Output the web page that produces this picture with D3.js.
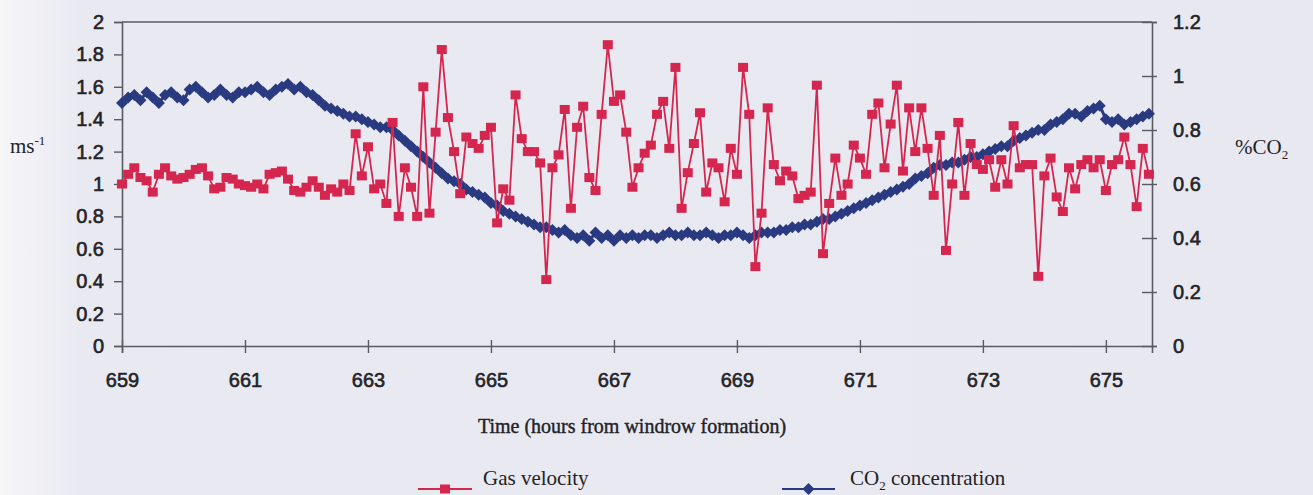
<!DOCTYPE html>
<html>
<head>
<meta charset="utf-8">
<script src="https://cdn.jsdelivr.net/npm/d3@7"></script>
<style>
  html, body { margin: 0; padding: 0; background: #e9e9f1; }
  svg { display: block; }
</style>
</head>
<body>
<div id="chart"></div>
<script>
// Readings are every 0.1 h starting at 659 h
const startHour = 659
const stepHours = 0.1

// Gas velocity (ms-1), left axis
const gasVelocity = [
  1.00, 1.06, 1.10, 1.04, 1.02, 0.95, 1.06, 1.10, 1.05, 1.03,
  1.04, 1.06, 1.09, 1.10, 1.05, 0.97, 0.98, 1.04, 1.03, 1.00,
  0.99, 0.98, 1.00, 0.97, 1.06, 1.07, 1.08, 1.03, 0.96, 0.95,
  0.98, 1.02, 0.98, 0.93, 0.97, 0.95, 1.00, 0.96, 1.31, 1.05,
  1.23, 0.97, 1.00, 0.88, 1.38, 0.80, 1.10, 0.98, 0.80, 1.60,
  0.82, 1.32, 1.83, 1.41, 1.20, 0.94, 1.29, 1.25, 1.22, 1.30,
  1.35, 0.76, 0.97, 0.90, 1.55, 1.28, 1.20, 1.20, 1.13, 0.41,
  1.10, 1.18, 1.46, 0.85, 1.35, 1.48, 1.04, 0.96, 1.43, 1.86,
  1.51, 1.55, 1.32, 0.98, 1.10, 1.19, 1.24, 1.43, 1.51, 1.22,
  1.72, 0.85, 1.07, 1.25, 1.44, 0.95, 1.13, 1.10, 0.89, 1.22,
  1.06, 1.72, 1.43, 0.49, 0.82, 1.47, 1.12, 1.02, 1.08, 1.05,
  0.91, 0.93, 0.95, 1.61, 0.57, 0.88, 1.16, 0.93, 1.00, 1.24,
  1.16, 1.06, 1.43, 1.50, 1.10, 1.37, 1.61, 1.08, 1.47, 1.20,
  1.47, 1.22, 0.93, 1.30, 0.59, 1.00, 1.38, 0.93, 1.25, 1.12,
  1.09, 1.15, 0.98, 1.15, 1.00, 1.36, 1.10, 1.12, 1.12, 0.43,
  1.05, 1.16, 0.92, 0.83, 1.10, 0.97, 1.12, 1.15, 1.10, 1.15,
  0.96, 1.12, 1.15, 1.29, 1.12, 0.86, 1.22, 1.06
]

// CO2 concentration (%), right axis
const co2 = [
  0.90, 0.92, 0.93, 0.91, 0.94, 0.92, 0.90, 0.93, 0.94, 0.92,
  0.91, 0.95, 0.96, 0.94, 0.92, 0.93, 0.95, 0.93, 0.92, 0.94,
  0.94, 0.95, 0.96, 0.94, 0.93, 0.95, 0.96, 0.97, 0.95, 0.96,
  0.94, 0.93, 0.91, 0.89, 0.88, 0.87, 0.86, 0.85, 0.85, 0.84,
  0.83, 0.82, 0.81, 0.81, 0.80, 0.78, 0.76, 0.74, 0.72, 0.70,
  0.68, 0.66, 0.64, 0.62, 0.61, 0.60, 0.58, 0.57, 0.56, 0.55,
  0.53, 0.52, 0.50, 0.49, 0.48, 0.47, 0.46, 0.45, 0.44, 0.44,
  0.43, 0.42, 0.43, 0.41, 0.40, 0.41, 0.39, 0.42, 0.40, 0.41,
  0.39, 0.41, 0.40, 0.41, 0.40, 0.41, 0.41, 0.40, 0.41, 0.42,
  0.41, 0.41, 0.42, 0.41, 0.41, 0.42, 0.41, 0.40, 0.41, 0.41,
  0.42, 0.41, 0.40, 0.41, 0.42, 0.42, 0.42, 0.43, 0.43, 0.44,
  0.44, 0.45, 0.45, 0.46, 0.47, 0.47, 0.48, 0.49, 0.50, 0.51,
  0.52, 0.53, 0.54, 0.55, 0.56, 0.57, 0.58, 0.59, 0.60, 0.62,
  0.63, 0.64, 0.66, 0.67, 0.67, 0.68, 0.68, 0.69, 0.70, 0.70,
  0.71, 0.72, 0.73, 0.74, 0.74, 0.76, 0.77, 0.78, 0.79, 0.80,
  0.80, 0.82, 0.83, 0.84, 0.86, 0.86, 0.85, 0.87, 0.88, 0.89,
  0.84, 0.83, 0.84, 0.82, 0.83, 0.84, 0.85, 0.86
]

const xTicks = [659, 661, 663, 665, 667, 669, 671, 673, 675]
const leftTicks = [0, 0.2, 0.4, 0.6, 0.8, 1, 1.2, 1.4, 1.6, 1.8, 2]
const rightTicks = [0, 0.2, 0.4, 0.6, 0.8, 1, 1.2]

const width = 1313, height = 495
const plot = {left: 122, right: 1152, top: 22, bottom: 346}

const red = "#d5264f"
const blue = "#2a3a80"
const axisColor = "#5a5a62"
const textColor = "#232326"

const svg = d3.select("#chart").append("svg")
  .attr("width", width).attr("height", height)

// background, a bit whiter at the left edge like the scan
const grad = svg.append("defs").append("linearGradient").attr("id", "bg")
grad.append("stop").attr("offset", "0%").attr("stop-color", "#f6f6f9")
grad.append("stop").attr("offset", "6%").attr("stop-color", "#e9e9f1")
grad.append("stop").attr("offset", "100%").attr("stop-color", "#e8e8f1")
svg.append("rect").attr("width", width).attr("height", height).attr("fill", "url(#bg)")

// scales
const x = d3.scaleLinear().domain([659, 675.75]).range([plot.left, plot.right])
const yL = d3.scaleLinear().domain([0, 2]).range([plot.bottom, plot.top])
const yR = d3.scaleLinear().domain([0, 1.2]).range([plot.bottom, plot.top])

const hourAt = i => startHour + i * stepHours
const fmt = d3.format("~g")

// top border of the plot box
svg.append("line")
  .attr("x1", plot.left).attr("x2", plot.right)
  .attr("y1", plot.top).attr("y2", plot.top)
  .attr("stroke", axisColor).attr("stroke-width", 1.4)

// axes
const tickFont = "'Liberation Sans', Arial, sans-serif"

const gx = svg.append("g").attr("transform", `translate(0,${plot.bottom})`)
  .call(d3.axisBottom(x).tickValues(xTicks).tickFormat(d3.format("d")).tickSizeOuter(0).tickSize(7).tickPadding(20))
gx.selectAll(".tick line").attr("y1", -6)

const gl = svg.append("g").attr("transform", `translate(${plot.left},0)`)
  .call(d3.axisLeft(yL).tickValues(leftTicks).tickFormat(fmt).tickSizeOuter(0).tickSize(8).tickPadding(10))

const gr = svg.append("g").attr("transform", `translate(${plot.right},0)`)
  .call(d3.axisRight(yR).tickValues(rightTicks).tickFormat(fmt).tickSizeOuter(0).tickSize(5).tickPadding(16))
gr.selectAll(".tick line").attr("x1", -10)

for (const g of [gx, gl, gr]) {
  g.select(".domain").attr("stroke", axisColor).attr("stroke-width", 1.6)
  g.selectAll(".tick line").attr("stroke", axisColor).attr("stroke-width", 1.4)
  g.selectAll(".tick text")
    .attr("fill", textColor)
    .style("font-family", tickFont)
    .style("font-size", "20px")
    .style("stroke", textColor).style("stroke-width", 0.6)
}

// CO2 line with diamonds (drawn first, behind gas velocity)
const co2Line = d3.line().x((d, i) => x(hourAt(i))).y(d => yR(d))
svg.append("path").datum(co2)
  .attr("d", co2Line).attr("fill", "none")
  .attr("stroke", blue).attr("stroke-width", 3)

const diamond = d3.symbol().type(d3.symbolSquare).size(72)
svg.append("g").selectAll("path").data(co2).join("path")
  .attr("transform", (d, i) => `translate(${x(hourAt(i))},${yR(d)}) rotate(45)`)
  .attr("d", diamond)
  .attr("fill", blue)

// gas velocity line with squares
const gasLine = d3.line().x((d, i) => x(hourAt(i))).y(d => yL(d))
svg.append("path").datum(gasVelocity)
  .attr("d", gasLine).attr("fill", "none")
  .attr("stroke", red).attr("stroke-width", 1.8)

svg.append("g").selectAll("rect").data(gasVelocity).join("rect")
  .attr("x", (d, i) => x(hourAt(i)) - 5)
  .attr("y", d => yL(d) - 4.5)
  .attr("width", 10).attr("height", 9)
  .attr("fill", red)

// axis titles
const serif = "'Liberation Serif', 'Times New Roman', serif"

const msLabel = svg.append("text").attr("x", 10).attr("y", 153)
  .attr("fill", textColor).style("font-family", serif).style("font-size", "21px")
msLabel.append("tspan").text("ms")
msLabel.append("tspan").attr("dy", -8).style("font-size", "13px").text("-1")

const co2Label = svg.append("text").attr("x", 1235).attr("y", 154)
  .attr("fill", textColor).style("font-family", serif).style("font-size", "21px")
co2Label.append("tspan").text("%CO")
co2Label.append("tspan").attr("dy", 5).style("font-size", "13px").text("2")

svg.append("text").attr("x", 632).attr("y", 433)
  .attr("text-anchor", "middle")
  .attr("fill", textColor).style("font-family", serif).style("font-size", "20px")
  .style("stroke", textColor).style("stroke-width", 0.4)
  .text("Time (hours from windrow formation)")

// legend
const legend = [
  {label: "Gas velocity", color: red, x1: 418, x2: 472, tx: 483},
  {label: "CO2 concentration", color: blue, x1: 782, x2: 835, tx: 850}
]
const ly = 489
legend.forEach((l, k) => {
  const g = svg.append("g")
  g.append("line").attr("x1", l.x1).attr("x2", l.x2).attr("y1", ly).attr("y2", ly)
    .attr("stroke", l.color).attr("stroke-width", 1.8)
  const cx = (l.x1 + l.x2) / 2
  if (k === 0) {
    g.append("rect").attr("x", cx - 5).attr("y", ly - 4.5).attr("width", 10).attr("height", 9).attr("fill", l.color)
  } else {
    g.append("path").attr("transform", `translate(${cx},${ly}) rotate(45)`).attr("d", diamond).attr("fill", l.color)
  }
  const t = g.append("text").attr("x", l.tx).attr("y", 485)
    .attr("fill", textColor).style("font-family", serif).style("font-size", "21px")
  if (k === 0) {
    t.text(l.label)
  } else {
    t.append("tspan").text("CO")
    t.append("tspan").attr("dy", 5).style("font-size", "13px").text("2")
    t.append("tspan").attr("dy", -5).text(" concentration")
  }
})
</script>
</body>
</html>
